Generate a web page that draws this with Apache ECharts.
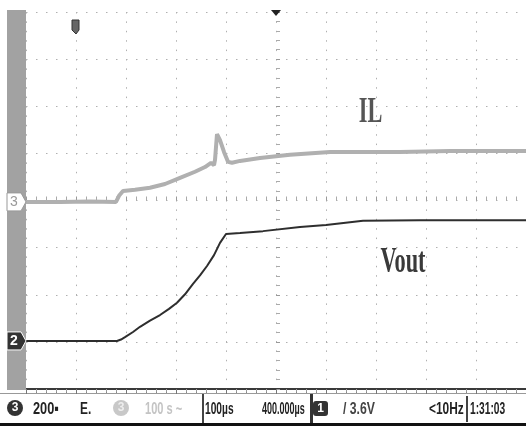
<!DOCTYPE html>
<html><head><meta charset="utf-8">
<script src="https://cdn.jsdelivr.net/npm/echarts@6/dist/echarts.min.js"></script>
<style>html,body{margin:0;padding:0;background:#fff}#c{width:526px;height:426px}</style>
</head><body><div id="c"></div>
<script>
// time in microseconds (100 us/div), level in screen divisions (0 = bottom, 8 = top)
const ilTime = [0,68,128,180,186,194,218,248,278,308,338,358,370,374,376,378,382,388,396,404,412,428,468,528,608,748,848,1000];
const ilDiv  = [3.97,3.97,3.98,3.97,4.10,4.20,4.23,4.27,4.35,4.48,4.61,4.71,4.80,4.82,4.75,4.86,5.41,5.28,5.03,4.82,4.80,4.84,4.90,4.97,5.03,5.03,5.05,5.05];
const voutTime = [0,182,190,198,214,228,248,268,286,302,318,334,348,362,376,388,400,428,474,548,600,674,788,1000];
const voutDiv  = [1.02,1.02,1.05,1.10,1.21,1.32,1.45,1.57,1.70,1.83,2.01,2.23,2.41,2.61,2.84,3.10,3.29,3.31,3.35,3.44,3.48,3.57,3.58,3.58];
const seriesNames = ['IL','Vout'];
const statusTexts = ['200\u25AA','E.','100 s ~','100\u00B5s','400.000\u00B5s','/ 3.6V','<10Hz','1:31:03'];

const chart = echarts.init(document.getElementById('c'));
const pair = (t, v) => t.map((x, i) => [x, v[i]]);
const dotH = [1.5, 8.5], dotV = [1.5, 7.9];
const option = {
  animation: false,
  backgroundColor: '#ffffff',
  grid: {left: 26, right: 0, top: 12, bottom: 37},
  xAxis: [
    {type: 'value', min: 0, max: 1000, interval: 100, position: 'bottom',
     axisLine: {show: true, lineStyle: {color: '#3a3a3a', width: 2}},
     axisTick: {show: false}, axisLabel: {show: false},
     minorTick: {show: true, splitNumber: 5, length: 4, lineStyle: {color: '#888'}},
     splitLine: {show: true, lineStyle: {color: '#b0b0b0', width: 1, type: dotV}}},
    {type: 'value', min: 0, max: 1000, interval: 100, position: 'top', offset: 2,
     axisLine: {show: true, lineStyle: {color: '#3a3a3a', width: 2}},
     axisTick: {show: true, inside: true, length: 5, lineStyle: {color: '#777'}},
     axisLabel: {show: false},
     minorTick: {show: true, splitNumber: 5, length: 3, lineStyle: {color: '#999'}},
     splitLine: {show: false}},
    {type: 'value', min: 0, max: 1000, interval: 100, position: 'bottom', offset: -188.5,
     axisLine: {show: false}, axisLabel: {show: false},
     axisTick: {show: true, inside: true, length: 4, lineStyle: {color: '#999'}},
     minorTick: {show: true, splitNumber: 5, length: 4, lineStyle: {color: '#aaa'}},
     splitLine: {show: false}}
  ],
  yAxis: [
    {type: 'value', min: 0, max: 8, interval: 1, position: 'left',
     axisLine: {show: false}, axisTick: {show: false}, axisLabel: {show: false},
     splitLine: {show: true, lineStyle: {color: '#b0b0b0', width: 1, type: dotH}}},
    {type: 'value', min: 0, max: 8, interval: 1, position: 'left', offset: -250,
     axisLine: {show: false}, axisLabel: {show: false},
     axisTick: {show: true, inside: true, length: 4, lineStyle: {color: '#999'}},
     minorTick: {show: true, splitNumber: 5, length: 4, lineStyle: {color: '#aaa'}},
     splitLine: {show: false}}
  ],
  series: [
    {name: seriesNames[0], type: 'line', data: pair(ilTime, ilDiv), showSymbol: false,
     lineStyle: {color: '#b0b0b0', width: 4}, z: 3},
    {name: seriesNames[1], type: 'line', data: pair(voutTime, voutDiv), showSymbol: false,
     lineStyle: {color: '#2e2e2e', width: 2}, z: 4}
  ]
};
chart.setOption(option);

const ilY = chart.convertToPixel({xAxisIndex: 0, yAxisIndex: 0}, [0, ilDiv[0]])[1];
const voY = chart.convertToPixel({xAxisIndex: 0, yAxisIndex: 0}, [0, voutDiv[0]])[1];
const ilLab = chart.convertToPixel({xAxisIndex: 0, yAxisIndex: 0}, [689, 5.86]);
const voLab = chart.convertToPixel({xAxisIndex: 0, yAxisIndex: 0}, [754, 2.69]);
const sf = "'Liberation Sans', Arial, sans-serif";
const T = (x, text, sx, color) => ({type: 'text', x: x, y: 409, scaleX: sx,
  style: {text: text, fill: color || '#222', font: 'bold 17px ' + sf, textVerticalAlign: 'middle'}});
const graphics = [
  {type: 'rect', shape: {x: 7, y: 10, width: 19, height: 380}, style: {fill: '#a2a2a2'}, z: 1},
  {type: 'polygon', shape: {points: [[7, ilY - 9], [21, ilY - 9], [26, ilY], [21, ilY + 9], [7, ilY + 9]]},
   style: {fill: '#fff', stroke: '#999', lineWidth: 1}, z: 10},
  {type: 'text', x: 14, y: ilY, style: {text: '3', fill: '#999', font: '14px ' + sf, textAlign: 'center', textVerticalAlign: 'middle'}, z: 11},
  {type: 'polygon', shape: {points: [[7, voY - 9], [21, voY - 9], [26, voY], [21, voY + 9], [7, voY + 9]]},
   style: {fill: '#333', stroke: '#fff', lineWidth: 1}, z: 10},
  {type: 'text', x: 14, y: voY, style: {text: '2', fill: '#fff', font: 'bold 14px ' + sf, textAlign: 'center', textVerticalAlign: 'middle'}, z: 11},
  {type: 'polygon', shape: {points: [[271, 10], [281, 10], [276, 16]]}, style: {fill: '#222'}, z: 10},
  {type: 'polygon', shape: {points: [[72, 20], [79, 20], [79, 30], [76, 34], [72, 30]]}, style: {fill: '#666', stroke: '#333', lineWidth: 1}, z: 10},
  {type: 'text', x: ilLab[0], y: ilLab[1], scaleX: 0.62,
   style: {text: seriesNames[0], fill: '#555', font: 'bold 36px "Liberation Serif", serif', textAlign: 'center', textVerticalAlign: 'middle'}, z: 10},
  {type: 'text', x: voLab[0], y: voLab[1], scaleX: 0.62,
   style: {text: seriesNames[1], fill: '#3a3a3a', font: 'bold 36px "Liberation Serif", serif', textAlign: 'center', textVerticalAlign: 'middle'}, z: 10},
  // status bar
  {type: 'line', shape: {x1: 0, y1: 393.5, x2: 526, y2: 393.5}, style: {stroke: '#999', lineWidth: 1}},
  {type: 'rect', shape: {x: 0, y: 423, width: 526, height: 3}, style: {fill: '#111'}},
  {type: 'circle', shape: {cx: 15, cy: 408, r: 8}, style: {fill: '#333'}},
  {type: 'text', x: 15, y: 408, style: {text: '3', fill: '#fff', font: 'bold 12px ' + sf, textAlign: 'center', textVerticalAlign: 'middle'}},
  T(33, statusTexts[0], 0.75),
  T(80, statusTexts[1], 0.7),
  {type: 'circle', shape: {cx: 121, cy: 408, r: 8}, style: {fill: '#c8c8c8'}},
  {type: 'text', x: 121, y: 408, style: {text: '3', fill: '#eee', font: 'bold 12px ' + sf, textAlign: 'center', textVerticalAlign: 'middle'}},
  T(145, statusTexts[2], 0.65, '#c4c4c4'),
  {type: 'rect', shape: {x: 202, y: 394, width: 2, height: 29}, style: {fill: '#444'}},
  T(205, statusTexts[3], 0.6),
  T(262, statusTexts[4], 0.53),
  {type: 'rect', shape: {x: 310, y: 394, width: 3, height: 29}, style: {fill: '#333'}},
  {type: 'rect', shape: {x: 313, y: 401, width: 15, height: 15, r: 3}, style: {fill: '#333'}},
  {type: 'text', x: 320.5, y: 408.5, style: {text: '1', fill: '#fff', font: 'bold 12px ' + sf, textAlign: 'center', textVerticalAlign: 'middle'}},
  T(343, statusTexts[5], 0.72, '#444'),
  T(429, statusTexts[6], 0.7),
  {type: 'rect', shape: {x: 466, y: 396, width: 2, height: 26}, style: {fill: '#444'}},
  T(470, statusTexts[7], 0.6)
];
chart.setOption({graphic: {elements: graphics}});
</script>
</body></html>
